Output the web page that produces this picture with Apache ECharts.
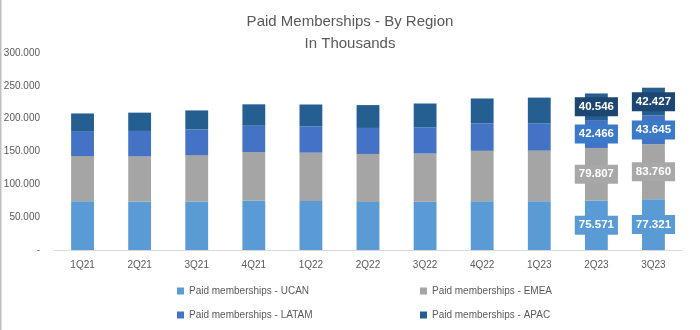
<!DOCTYPE html>
<html>
<head>
<meta charset="utf-8">
<script src="https://cdn.jsdelivr.net/npm/echarts@6/dist/echarts.min.js"></script>
<style>
html,body{margin:0;padding:0;background:#fff;}
#c{width:700px;height:330px;}
</style>
</head>
<body>
<div id="c"></div>
<script>
var categories = ['1Q21','2Q21','3Q21','4Q21','1Q22','2Q22','3Q22','4Q22','1Q23','2Q23','3Q23'];
var ucan  = [74384, 73945, 74018, 75215, 74579, 73283, 73386, 74296, 74398, 75571, 77321];
var emea  = [68696, 68697, 70500, 74036, 73733, 72966, 73534, 76729, 76953, 79807, 83760];
var latam = [38027, 38658, 39063, 39961, 39993, 39618, 39935, 41699, 41249, 42466, 43645];
var apac  = [26853, 27875, 28988, 32632, 33258, 34798, 36229, 38023, 39479, 40546, 42427];
var labeledCategories = ['2Q23','3Q23'];
var yTicks = [0, 50000, 100000, 150000, 200000, 250000, 300000];
var seriesNames = ['Paid memberships - UCAN','Paid memberships - EMEA','Paid memberships - LATAM','Paid memberships - APAC'];

var colors = ['#5B9BD5','#A5A5A5','#4472C4','#255E91'];
var labelBg = ['#5B9BD5','#A8A8A8','#3B79C9','#1E4672'];
var FONT = '"Liberation Sans", Arial, sans-serif';

function fmt(v){
  if (v === 0) return '-';
  return String(Math.round(v)).replace(/\B(?=(\d{3})+(?!\d))/g, '.');
}

function buildSeries(name, arr, idx){
  return {
    name: name,
    type: 'bar',
    stack: 'total',
    barWidth: '40%',
    itemStyle: {color: colors[idx]},
    data: arr.map(function(v, i){
      var d = {value: v};
      if (labeledCategories.indexOf(categories[i]) >= 0) {
        d.label = {
          show: true,
          position: 'inside',
          formatter: function(p){ return fmt(p.value); },
          color: '#ffffff',
          fontWeight: 'bold',
          fontSize: 11.5,
          fontFamily: FONT,
          backgroundColor: labelBg[idx],
          padding: [4, 4, 3, 4]
        };
      }
      return d;
    })
  };
}

var chart = echarts.init(document.getElementById('c'), null, {renderer: 'canvas'});
var legendBase = {
  orient: 'horizontal', padding: 0, itemWidth: 7, itemHeight: 7, itemGap: 0,
  icon: 'rect',
  textStyle: {color: '#595959', fontSize: 10, fontFamily: FONT}
};
function lg(name, left, top){
  return Object.assign({}, legendBase, {data: [name], left: left, top: top});
}
chart.setOption({
  animation: false,
  textStyle: {fontFamily: FONT},
  title: {
    text: 'Paid Memberships - By Region\nIn Thousands',
    left: 'center',
    top: 6,
    textStyle: {color: '#595959', fontSize: 15, fontWeight: 'normal', fontFamily: FONT, lineHeight: 22}
  },
  legend: [
    lg(seriesNames[0], 177, 286),
    lg(seriesNames[1], 420, 286),
    lg(seriesNames[2], 177, 310),
    lg(seriesNames[3], 420, 310)
  ],
  grid: {left: 54, right: 18, top: 53, bottom: 80, containLabel: false},
  xAxis: {
    type: 'category',
    data: categories,
    axisLine: {lineStyle: {color: '#D9D9D9'}},
    axisTick: {show: false},
    axisLabel: {color: '#595959', fontSize: 10, fontFamily: FONT, margin: 10}
  },
  yAxis: {
    type: 'value',
    min: yTicks[0], max: yTicks[yTicks.length-1], interval: yTicks[1]-yTicks[0],
    axisLine: {show: false},
    axisTick: {show: false},
    splitLine: {show: false},
    axisLabel: {color: '#595959', fontSize: 10, fontFamily: FONT, margin: 14, formatter: fmt}
  },
  graphic: [{
    type: 'rect', left: 0, top: 0, shape: {x: 0, y: 0, width: 1.5, height: 330},
    style: {fill: '#BFBFBF'}, silent: true
  }],
  series: [
    buildSeries(seriesNames[0], ucan, 0),
    buildSeries(seriesNames[1], emea, 1),
    buildSeries(seriesNames[2], latam, 2),
    buildSeries(seriesNames[3], apac, 3)
  ]
});
</script>
</body>
</html>
